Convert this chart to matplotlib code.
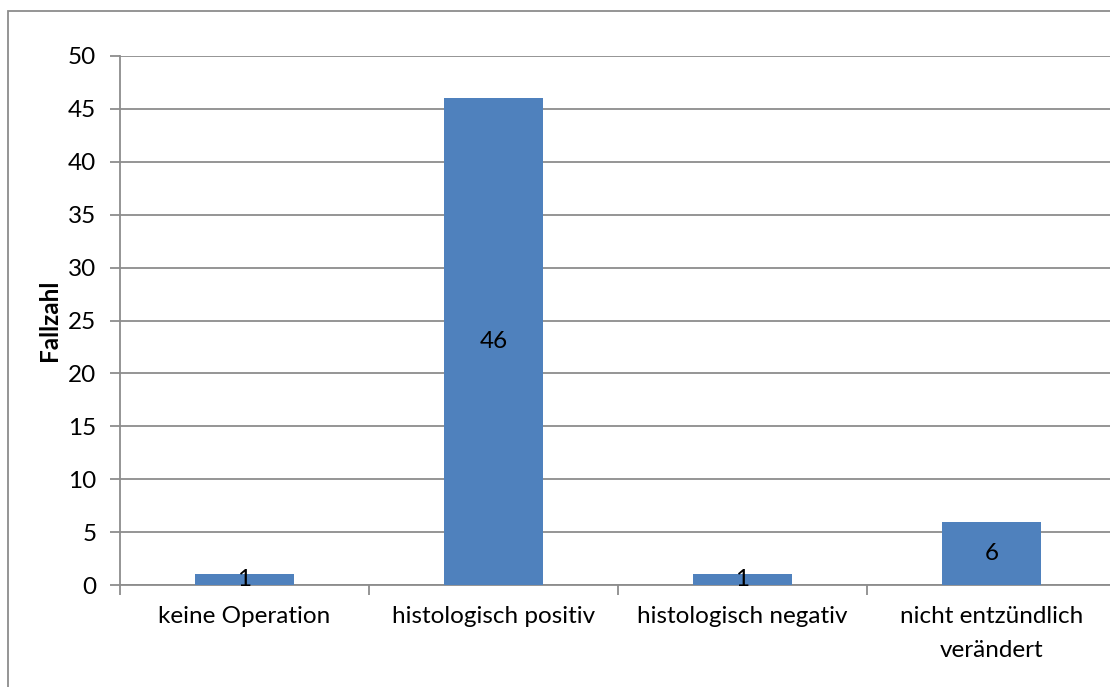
import matplotlib.pyplot as plt
from matplotlib.patches import Rectangle

categories = ['keine Operation', 'histologisch positiv', 'histologisch negativ',
              'nicht entzündlich\nverändert']
counts = [1, 46, 1, 6]

plt.rcParams['font.family'] = ['Lato', 'DejaVu Sans']

fig = plt.figure(figsize=(11.1, 6.87), dpi=100)
ax = fig.add_axes([120 / 1110, 1 - 585 / 687, 996 / 1110, 529 / 687])

grey = '#8c8c8c'
fs = 17.5
x = range(len(categories))
bars = ax.bar(x, counts, width=0.4, color='#4f81bd', zorder=3)
ax.bar_label(bars, labels=[str(c) for c in counts], label_type='center',
             fontsize=fs, zorder=4)

ax.set_xlim(-0.5, len(categories) - 0.5)
ax.set_ylim(0, 50)
ax.set_yticks(range(0, 51, 5))
ax.yaxis.grid(True, color=grey, linewidth=1.3, zorder=0)

ax.set_xticks(list(x))
ax.set_xticklabels(categories, fontsize=fs, linespacing=1.75)
ax.tick_params(axis='x', length=0, pad=15)
ax.set_xticks([i + 0.5 for i in range(len(categories) - 1)] + [-0.5], minor=True)
ax.tick_params(axis='x', which='minor', length=7, width=1.3, color=grey)
ax.tick_params(axis='y', length=7, width=1.3, color=grey, labelsize=fs, pad=10)

for side in ['top', 'right']:
    ax.spines[side].set_visible(False)
for side in ['left', 'bottom']:
    ax.spines[side].set_color(grey)
    ax.spines[side].set_linewidth(1.3)

ax.set_ylabel('Fallzahl', fontsize=fs, fontweight='bold', labelpad=5)

# chart frame
fig.patches.append(Rectangle((8 / 1110, -0.1), 1.2, 1 - 11 / 687 + 0.1,
                             transform=fig.transFigure, fill=False,
                             edgecolor=grey, linewidth=1.3, clip_on=False))

fig.savefig('out.png', dpi=100)
